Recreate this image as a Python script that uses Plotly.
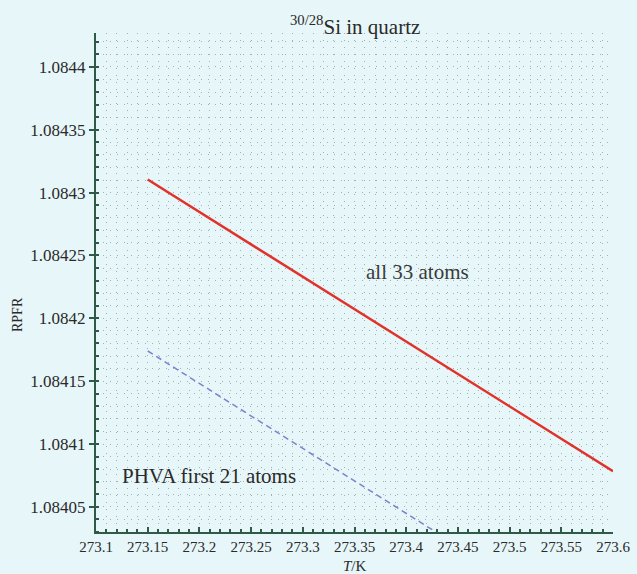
import plotly.graph_objects as go

# Data
T_all = [273.15, 273.6]
rpfr_all = [1.0843104, 1.0840784]
T_phva = [273.15, 273.45]
rpfr_phva = [1.084174, 1.084019]

x_tickvals = [273.1, 273.15, 273.2, 273.25, 273.3, 273.35, 273.4, 273.45, 273.5, 273.55, 273.6]
x_ticktext = ["273.1", "273.15", "273.2", "273.25", "273.3", "273.35", "273.4", "273.45", "273.5", "273.55", "273.6"]
y_tickvals = [1.08405, 1.0841, 1.08415, 1.0842, 1.08425, 1.0843, 1.08435, 1.0844]
y_ticktext = ["1.08405", "1.0841", "1.08415", "1.0842", "1.08425", "1.0843", "1.08435", "1.0844"]

font_family = "Liberation Serif, Times New Roman, serif"
bg = "#e7f6f8"
axis_col = "#2f5a48"
grid_col = "#a3b0b0"
gdash = "1px,6px"
txt = "#2a2a2a"

fig = go.Figure()
fig.add_trace(go.Scatter(x=T_all, y=rpfr_all, mode="lines",
                         line=dict(color="#e0322a", width=2.5), showlegend=False))
fig.add_trace(go.Scatter(x=T_phva, y=rpfr_phva, mode="lines",
                         line=dict(color="#7c82cc", width=1.5, dash="6px,4px"), showlegend=False))

fig.add_annotation(x=273.411, y=1.0842372, text="all 33 atoms", showarrow=False,
                   font=dict(size=21, color="#3a3a3a"))
fig.add_annotation(x=273.2095, y=1.0840744, text="PHVA first 21 atoms", showarrow=False,
                   font=dict(size=21, color=txt))
# axis titles
fig.add_annotation(x=0.5, y=0, xref="paper", yref="paper", yshift=-34, text="<i>T</i>/K",
                   showarrow=False, font=dict(size=15, color=txt), yanchor="middle")
fig.add_annotation(x=0, y=0.5, xref="paper", yref="paper", xshift=-88, yshift=-32, text="RPFR",
                   textangle=-90, showarrow=False, font=dict(size=14, color=txt))
# title
fig.add_annotation(x=0.5, y=1, xref="paper", yref="paper", yshift=8, text="<sup>30/28</sup>Si in quartz",
                   showarrow=False, font=dict(size=21, color=txt), yanchor="middle")

fig.update_layout(
    width=637, height=574,
    paper_bgcolor=bg, plot_bgcolor=bg,
    margin=dict(l=96, r=24, t=33, b=42),
    font=dict(family=font_family, size=15, color=txt),
    showlegend=False,
)
fig.update_xaxes(
    range=[273.1, 273.6], tickvals=x_tickvals, ticktext=x_ticktext,
    showline=True, linecolor=axis_col, linewidth=2, mirror=False,
    ticks="inside", ticklen=5, tickcolor=axis_col, tickwidth=1.5,
    showgrid=True, gridcolor=grid_col, gridwidth=1, griddash=gdash,
    minor=dict(dtick=0.01, tick0=273.1, showgrid=True, gridcolor=grid_col, gridwidth=1,
               griddash=gdash, ticks="inside", ticklen=3, tickcolor=axis_col),
    zeroline=False, automargin=False,
    tickfont=dict(size=15),
)
fig.update_yaxes(
    range=[1.08403, 1.084427], tickvals=y_tickvals, ticktext=y_ticktext,
    showline=True, linecolor=axis_col, linewidth=2, mirror=False,
    ticks="outside", ticklen=5, tickcolor=axis_col, tickwidth=1.5,
    showgrid=True, gridcolor=grid_col, gridwidth=1, griddash=gdash,
    minor=dict(dtick=0.00001, tick0=1.08405, showgrid=True, gridcolor=grid_col, gridwidth=1,
               griddash=gdash, ticks="inside", ticklen=3, tickcolor=axis_col),
    zeroline=False, automargin=False,
    tickfont=dict(size=17),
)

fig.write_html("out.html", config={"displayModeBar": False},
               post_script="document.body.style.margin='0';document.body.style.background='%s';" % bg)
